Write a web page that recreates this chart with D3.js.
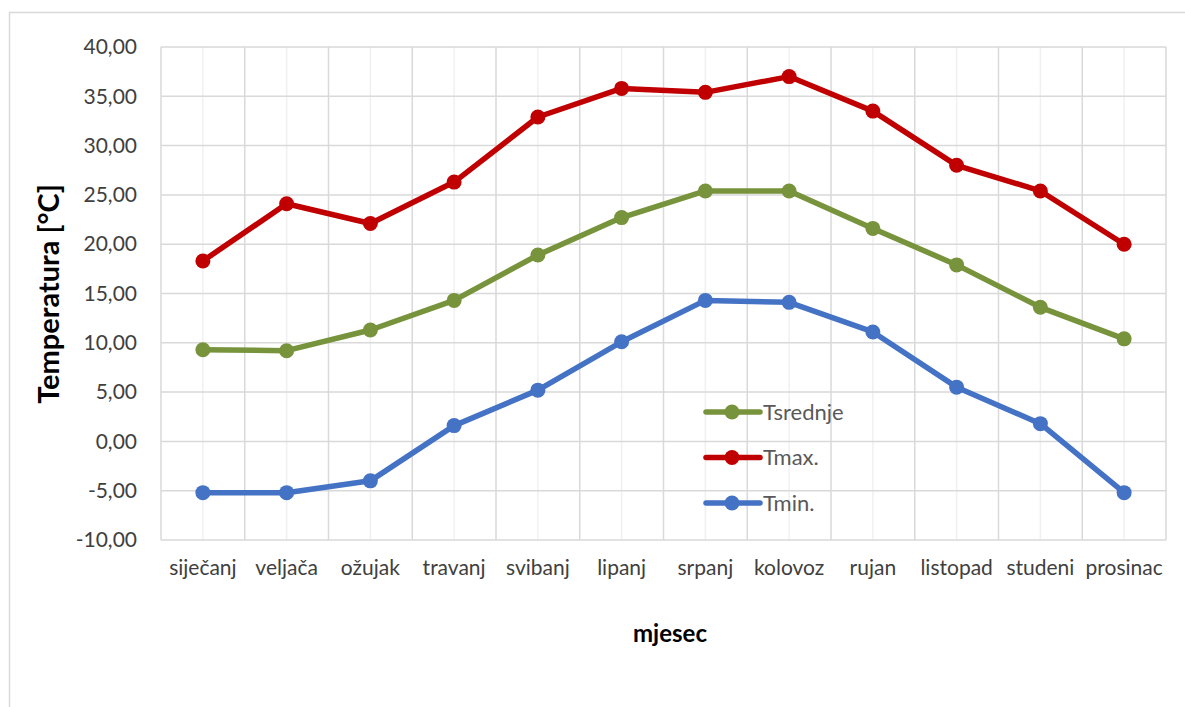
<!DOCTYPE html>
<html>
<head>
<meta charset="utf-8">
<script src="https://cdn.jsdelivr.net/npm/d3@7"></script>
<style>
  body { margin: 0; background: #fff; }
  text { font-family: Lato, "Noto Sans", sans-serif; }
</style>
</head>
<body>
<svg id="chart" width="1185" height="707"></svg>
<script>
// data
let months = ["siječanj", "veljača", "ožujak", "travanj", "svibanj", "lipanj",
              "srpanj", "kolovoz", "rujan", "listopad", "studeni", "prosinac"];
let tSrednje = [9.3, 9.2, 11.3, 14.3, 18.9, 22.7, 25.4, 25.4, 21.6, 17.9, 13.6, 10.4];
let tMax = [18.3, 24.1, 22.1, 26.3, 32.9, 35.8, 35.4, 37.0, 33.5, 28.0, 25.4, 20.0];
let tMin = [-5.2, -5.2, -4.0, 1.6, 5.2, 10.1, 14.3, 14.1, 11.1, 5.5, 1.8, -5.2];
let yTicks = [-10, -5, 0, 5, 10, 15, 20, 25, 30, 35, 40];

let series = [
  { name: "Tsrednje", values: tSrednje, color: "#77933C" },
  { name: "Tmax.", values: tMax, color: "#C00000" },
  { name: "Tmin.", values: tMin, color: "#4472C4" }
];

let svg = d3.select("svg#chart");
let margin = { top: 47, right: 19, bottom: 167, left: 161 };
let chartWidth = 1185 - margin.left - margin.right;
let chartHeight = 707 - margin.top - margin.bottom;

// outer chart border
svg.append("rect")
  .attr("x", 9.5).attr("y", 12.5)
  .attr("width", 1200).attr("height", 720)
  .attr("fill", "none").attr("stroke", "#d9d9d9").attr("stroke-width", 1.5);

let xScale = d3.scaleBand().domain(months).range([0, chartWidth]);
let yScale = d3.scaleLinear().domain([-10, 40]).range([chartHeight, 0]);

let g = svg.append("g")
  .attr("transform", "translate(" + margin.left + "," + margin.top + ")");

// grid: minor lines at category centres, major lines at boundaries
g.selectAll("line.vminor").data(months).enter().append("line")
  .attr("x1", d => xScale(d) + xScale.bandwidth() / 2)
  .attr("x2", d => xScale(d) + xScale.bandwidth() / 2)
  .attr("y1", 0).attr("y2", chartHeight)
  .attr("stroke", "#f0f0f0").attr("stroke-width", 1.5);

g.selectAll("line.vmajor").data(months.concat(["end"])).enter().append("line")
  .attr("x1", (d, i) => i * xScale.bandwidth())
  .attr("x2", (d, i) => i * xScale.bandwidth())
  .attr("y1", 0).attr("y2", chartHeight)
  .attr("stroke", "#d9d9d9").attr("stroke-width", 1.5);

g.selectAll("line.hgrid").data(yTicks).enter().append("line")
  .attr("x1", 0).attr("x2", chartWidth)
  .attr("y1", d => yScale(d)).attr("y2", d => yScale(d))
  .attr("stroke", "#d9d9d9").attr("stroke-width", 1.5);

// Y axis labels (comma decimal, plain hyphen minus)
let leftAxis = d3.axisLeft(yScale).tickValues(yTicks)
  .tickFormat(d => d.toFixed(2).replace(".", ","))
  .tickSize(0).tickPadding(24);
g.append("g").call(leftAxis)
  .call(a => a.select(".domain").remove())
  .selectAll("text")
  .attr("font-size", 21).attr("fill", "#404040")
  .style("font-family", "Lato, sans-serif");

// X axis labels
let bottomAxis = d3.axisBottom(xScale).tickSize(0).tickPadding(20);
g.append("g").attr("transform", "translate(0," + chartHeight + ")")
  .call(bottomAxis)
  .call(a => a.select(".domain").remove())
  .selectAll("text")
  .attr("font-size", 21).attr("fill", "#404040")
  .style("font-family", "Lato, sans-serif");

// lines and markers
let line = d3.line()
  .x((d, i) => xScale(months[i]) + xScale.bandwidth() / 2)
  .y(d => yScale(d));

series.forEach(s => {
  g.append("path")
    .datum(s.values)
    .attr("d", line)
    .attr("fill", "none")
    .attr("stroke", s.color)
    .attr("stroke-width", 5.5)
    .attr("stroke-linejoin", "round");
  g.selectAll(null).data(s.values).enter().append("circle")
    .attr("cx", (d, i) => xScale(months[i]) + xScale.bandwidth() / 2)
    .attr("cy", d => yScale(d))
    .attr("r", 7.5)
    .attr("fill", s.color);
});

// legend
let legend = svg.append("g").attr("transform", "translate(706,412)");
series.forEach((s, i) => {
  let row = legend.append("g").attr("transform", "translate(0," + (i * 45.5) + ")");
  row.append("line").attr("x1", 0).attr("x2", 54).attr("y1", 0).attr("y2", 0)
    .attr("stroke", s.color).attr("stroke-width", 5.5).attr("stroke-linecap", "round");
  row.append("circle").attr("cx", 26).attr("cy", 0).attr("r", 7.5).attr("fill", s.color);
  row.append("text").attr("x", 57).attr("y", 0).attr("dy", "0.35em")
    .attr("font-size", 22).attr("fill", "#595959").text(s.name);
});

// axis titles
svg.append("text")
  .attr("transform", "translate(59,294) rotate(-90)")
  .attr("text-anchor", "middle")
  .attr("font-size", 29).attr("font-weight", "bold").attr("fill", "#000")
  .text("Temperatura [°C]");

svg.append("text")
  .attr("x", 670).attr("y", 642)
  .attr("text-anchor", "middle")
  .attr("font-size", 24).attr("font-weight", "bold").attr("fill", "#000")
  .text("mjesec");
</script>
</body>
</html>
